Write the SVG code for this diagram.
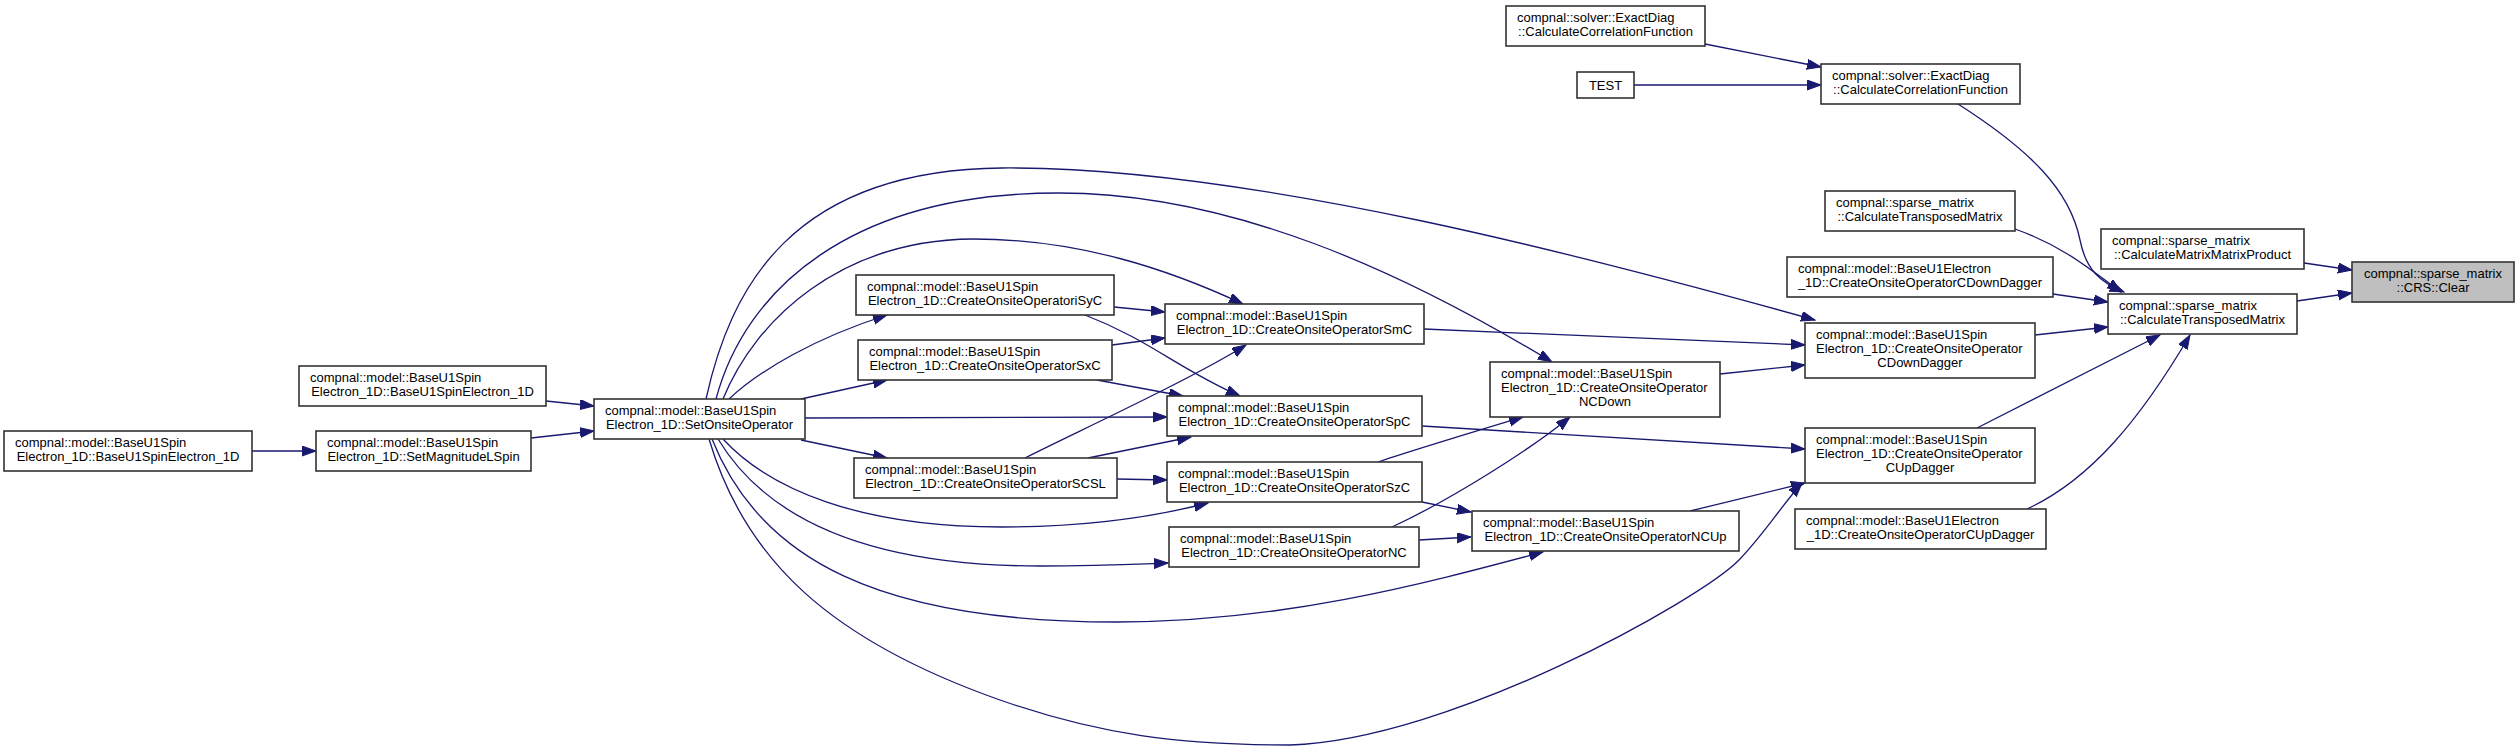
<svg xmlns="http://www.w3.org/2000/svg" width="2519" height="750" viewBox="0 0 2519 750">
<style>
.node rect{fill:#ffffff;stroke:#333333;stroke-width:1.6}
.node.root rect{fill:#bfbfbf}
.node text{font-family:"Liberation Sans",Arial,Helvetica,sans-serif;font-size:13px;fill:#000000}
.node text.c{text-anchor:middle}
#edges path{fill:none;stroke:#191970;stroke-width:1.3;marker-end:url(#ah)}
</style>
<defs>
<marker id="ah" markerUnits="userSpaceOnUse" markerWidth="15" markerHeight="11" refX="14" refY="5" orient="auto" viewBox="0 0 15 11">
<path d="M0,0 L14,5 L0,10 z" fill="#191970" stroke="#191970" stroke-width="1"/>
</marker>
</defs>
<rect width="2519" height="750" fill="#ffffff"/>
<g id="edges">
<path d="M252,451 L316,451"/>
<path d="M531,438 L594,431"/>
<path d="M546,401 L594,406"/>
<path d="M729,399 C760,370 815,338 887,315"/>
<path d="M801,399 L887,380"/>
<path d="M801,440 L887,458"/>
<path d="M805,418 L1167,417"/>
<path d="M723,399 C755,320 840,240 973,239 C1080,239 1170,270 1243,304"/>
<path d="M716,399 C745,290 850,193 1059,193 C1230,193 1400,270 1552,362"/>
<path d="M706,399 C730,290 790,170 1002,168 C1250,166 1600,260 1815,320"/>
<path d="M723,439 C770,490 860,527 1002,527 C1080,527 1150,518 1208,503"/>
<path d="M718,439 C770,525 880,566 1040,566 C1100,566 1140,564 1168,563"/>
<path d="M712,439 C760,560 880,622 1117,622 C1280,622 1420,585 1543,552"/>
<path d="M709,439 C745,560 830,640 1000,700 C1100,735 1180,745 1290,745 C1450,740 1700,600 1739,560 C1765,533 1782,505 1802,483"/>
<path d="M1114,307 L1165,312"/>
<path d="M1085,315 C1150,340 1180,370 1240,396"/>
<path d="M1112,345 L1165,338"/>
<path d="M1097,380 L1183,396"/>
<path d="M1025,458 C1070,435 1190,380 1246,345"/>
<path d="M1088,458 L1191,437"/>
<path d="M1117,479 L1167,480"/>
<path d="M1424,329 L1805,345"/>
<path d="M1422,426 L1805,449"/>
<path d="M1378,462 C1420,448 1480,430 1523,417"/>
<path d="M1422,502 L1471,512"/>
<path d="M1392,527 C1450,500 1530,450 1570,417"/>
<path d="M1419,540 L1471,537"/>
<path d="M1720,374 L1805,365"/>
<path d="M1690,511 L1805,483"/>
<path d="M2035,335 L2108,327"/>
<path d="M1977,428 L2160,335"/>
<path d="M2053,294 L2108,302"/>
<path d="M2027,509 C2090,480 2140,420 2190,335"/>
<path d="M2015,229 C2060,245 2085,265 2121,292"/>
<path d="M1958,104 C2030,150 2070,190 2080,240 C2086,270 2100,282 2124,292"/>
<path d="M1705,44 L1821,67"/>
<path d="M1634,85 L1821,85"/>
<path d="M2297,301 L2352,293"/>
<path d="M2304,263 L2352,270"/>
</g>
<g id="n_farleft" class="node"><rect x="4" y="431" width="248" height="40"/><text x="15" y="446.6">compnal::model::BaseU1Spin</text><text class="c" x="128" y="460.9">Electron_1D::BaseU1SpinElectron_1D</text></g>
<g id="n_ctor2" class="node"><rect x="299" y="366" width="247" height="40"/><text x="310" y="381.6">compnal::model::BaseU1Spin</text><text class="c" x="422.5" y="395.9">Electron_1D::BaseU1SpinElectron_1D</text></g>
<g id="n_setmag" class="node"><rect x="316" y="431" width="215" height="40"/><text x="327" y="446.6">compnal::model::BaseU1Spin</text><text class="c" x="423.5" y="460.9">Electron_1D::SetMagnitudeLSpin</text></g>
<g id="n_setonsite" class="node"><rect x="594" y="399" width="211" height="40"/><text x="605" y="414.6">compnal::model::BaseU1Spin</text><text class="c" x="699.5" y="428.9">Electron_1D::SetOnsiteOperator</text></g>
<g id="n_isyc" class="node"><rect x="856" y="275" width="258" height="40"/><text x="867" y="290.6">compnal::model::BaseU1Spin</text><text class="c" x="985" y="304.9">Electron_1D::CreateOnsiteOperatoriSyC</text></g>
<g id="n_sxc" class="node"><rect x="858" y="340" width="254" height="40"/><text x="869" y="355.6">compnal::model::BaseU1Spin</text><text class="c" x="985" y="369.9">Electron_1D::CreateOnsiteOperatorSxC</text></g>
<g id="n_scsl" class="node"><rect x="854" y="458" width="263" height="40"/><text x="865" y="473.6">compnal::model::BaseU1Spin</text><text class="c" x="985.5" y="487.9">Electron_1D::CreateOnsiteOperatorSCSL</text></g>
<g id="n_smc" class="node"><rect x="1165" y="304" width="259" height="40"/><text x="1176" y="319.6">compnal::model::BaseU1Spin</text><text class="c" x="1294.5" y="333.9">Electron_1D::CreateOnsiteOperatorSmC</text></g>
<g id="n_spc" class="node"><rect x="1167" y="396" width="255" height="40"/><text x="1178" y="411.6">compnal::model::BaseU1Spin</text><text class="c" x="1294.5" y="425.9">Electron_1D::CreateOnsiteOperatorSpC</text></g>
<g id="n_szc" class="node"><rect x="1167" y="462" width="255" height="40"/><text x="1178" y="477.6">compnal::model::BaseU1Spin</text><text class="c" x="1294.5" y="491.9">Electron_1D::CreateOnsiteOperatorSzC</text></g>
<g id="n_nc" class="node"><rect x="1169" y="527" width="250" height="40"/><text x="1180" y="542.6">compnal::model::BaseU1Spin</text><text class="c" x="1294" y="556.9">Electron_1D::CreateOnsiteOperatorNC</text></g>
<g id="n_ncdown" class="node"><rect x="1490" y="362" width="230" height="55"/><text x="1501" y="377.6">compnal::model::BaseU1Spin</text><text x="1501" y="391.9">Electron_1D::CreateOnsiteOperator</text><text class="c" x="1605" y="406.2">NCDown</text></g>
<g id="n_ncup" class="node"><rect x="1472" y="511" width="267" height="40"/><text x="1483" y="526.6">compnal::model::BaseU1Spin</text><text class="c" x="1605.5" y="540.9">Electron_1D::CreateOnsiteOperatorNCUp</text></g>
<g id="n_cdown" class="node"><rect x="1805" y="323" width="230" height="55"/><text x="1816" y="338.6">compnal::model::BaseU1Spin</text><text x="1816" y="352.9">Electron_1D::CreateOnsiteOperator</text><text class="c" x="1920" y="367.2">CDownDagger</text></g>
<g id="n_cup" class="node"><rect x="1805" y="428" width="230" height="55"/><text x="1816" y="443.6">compnal::model::BaseU1Spin</text><text x="1816" y="457.9">Electron_1D::CreateOnsiteOperator</text><text class="c" x="1920" y="472.2">CUpDagger</text></g>
<g id="n_ecdown" class="node"><rect x="1787" y="257" width="266" height="40"/><text x="1798" y="272.6">compnal::model::BaseU1Electron</text><text class="c" x="1920" y="286.9">_1D::CreateOnsiteOperatorCDownDagger</text></g>
<g id="n_ecup" class="node"><rect x="1795" y="509" width="251" height="40"/><text x="1806" y="524.6">compnal::model::BaseU1Electron</text><text class="c" x="1920.5" y="538.9">_1D::CreateOnsiteOperatorCUpDagger</text></g>
<g id="n_transp_up" class="node"><rect x="1825" y="191" width="190" height="40"/><text x="1836" y="206.6">compnal::sparse_matrix</text><text class="c" x="1920" y="220.9">::CalculateTransposedMatrix</text></g>
<g id="n_corr1" class="node"><rect x="1506" y="6" width="199" height="40"/><text x="1517" y="21.6">compnal::solver::ExactDiag</text><text class="c" x="1605.5" y="35.9">::CalculateCorrelationFunction</text></g>
<g id="n_test" class="node"><rect x="1577" y="72" width="57" height="26"/><text class="c" x="1605.5" y="89.5">TEST</text></g>
<g id="n_corr2" class="node"><rect x="1821" y="64" width="199" height="40"/><text x="1832" y="79.6">compnal::solver::ExactDiag</text><text class="c" x="1920.5" y="93.9">::CalculateCorrelationFunction</text></g>
<g id="n_product" class="node"><rect x="2101" y="229" width="203" height="40"/><text x="2112" y="244.6">compnal::sparse_matrix</text><text class="c" x="2202.5" y="258.9">::CalculateMatrixMatrixProduct</text></g>
<g id="n_transp" class="node"><rect x="2108" y="294" width="189" height="40"/><text x="2119" y="309.6">compnal::sparse_matrix</text><text class="c" x="2202.5" y="323.9">::CalculateTransposedMatrix</text></g>
<g id="n_clear" class="node root"><rect x="2352" y="262" width="162" height="40"/><text x="2364" y="277.6">compnal::sparse_matrix</text><text class="c" x="2433" y="291.9">::CRS::Clear</text></g>
</svg>
